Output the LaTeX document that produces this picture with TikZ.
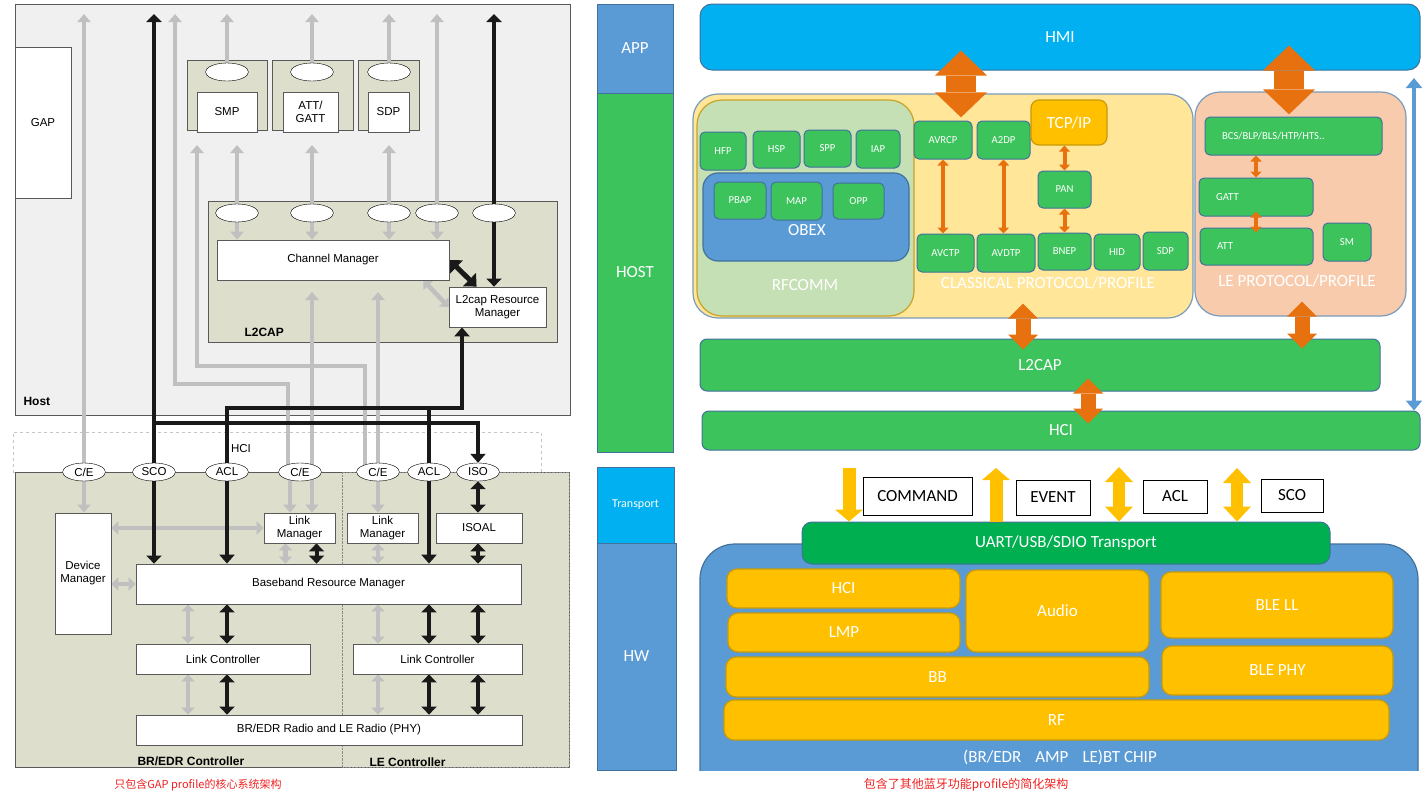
\documentclass[tikz,border=0pt]{standalone}
\usepackage{fontspec}
\setmainfont{Liberation Sans}
\newfontfamily\calfont{Carlito}
\newfontfamily\cjkfont{Noto Sans CJK SC}
\usetikzlibrary{positioning,fit,shapes.geometric,arrows.meta}
\pgfdeclarelayer{back}
\pgfdeclarelayer{wires}
\pgfsetlayers{back,wires,main}

\definecolor{hostbg}{HTML}{F0F0F0}
\definecolor{khaki}{HTML}{DDDECB}
\definecolor{gline}{HTML}{C0C0C0}
\definecolor{frame}{HTML}{595959}
\definecolor{appblue}{HTML}{5B9BD5}
\definecolor{edge}{HTML}{41719C}
\definecolor{pgreen}{HTML}{3CC35C}
\definecolor{tgreen}{HTML}{00B050}
\definecolor{hmicyan}{HTML}{00B0F0}
\definecolor{clsyel}{HTML}{FFE699}
\definecolor{rfgreen}{HTML}{C5E0B4}
\definecolor{rfedge}{HTML}{C9A227}
\definecolor{lesalmon}{HTML}{F8CBAD}
\definecolor{gold}{HTML}{FFC000}
\definecolor{goldedge}{HTML}{C99A06}
\definecolor{oarrow}{HTML}{E8710F}
\definecolor{capred}{HTML}{F02020}

\newcommand{\lsz}{\fontsize{11.5}{13}\selectfont}
\newcommand{\lbf}{\fontsize{12}{14}\selectfont\bfseries}
\newcommand{\csm}{\calfont\fontsize{10.7}{12}\selectfont}
\newcommand{\cbig}{\calfont\fontsize{17}{20}\selectfont}

\tikzset{
  hbox/.style={draw=frame, fill=hostbg, inner sep=0pt, line width=1pt},
  kbox/.style={draw=frame, fill=khaki, inner sep=0pt, line width=0.8pt},
  wbox/.style={draw=frame, fill=white, inner sep=0pt, line width=0.8pt},
  wtxt/.style={label={[font=\lsz, align=center]center:#1}},
  hcibox/.style={draw=gray!45, dashed, inner sep=0pt},
  port/.style={ellipse, draw=black, fill=white, minimum width=43pt, minimum height=18pt, inner sep=0pt, font=\lsz},
  tag/.style={anchor=west, font=\lbf},
  garr/.style={draw=gline, line width=4.5pt, -{Triangle[length=8pt,width=13pt]}},
  gdbl/.style={draw=gline, line width=4.5pt, {Triangle[length=7pt,width=13pt]}-{Triangle[length=7pt,width=13pt]}},
  bline/.style={draw=black!90, line width=4pt},
  barr/.style={bline, -{Triangle[length=9pt,width=15pt]}},
  bdbl/.style={bline, {Triangle[length=8pt,width=15pt]}-{Triangle[length=8pt,width=15pt]}},
  bfat/.style={draw=black!90, line width=5pt, {Triangle[length=10pt,width=18pt]}-{Triangle[length=10pt,width=18pt]}},
  col/.style={draw=edge, inner sep=0pt},
  zone/.style={draw=edge!70, rounded corners=25pt, inner sep=0pt, line width=1.2pt},
  gbox/.style={draw=edge, fill=pgreen, rounded corners=5pt, inner sep=0pt, line width=1pt},
  gtxt/.style={label={[font=\csm, text=white]center:#1}},
  glbl/.style={anchor=west, xshift=14pt, text=white, font=\csm},
  btxt/.style={label={[font=\cbig, text=white]center:#1}},
  ktxt/.style={label={[font=\cbig]center:#1}},
  bar/.style={draw=edge, fill=pgreen, rounded corners=7pt, inner sep=0pt, line width=1pt},
  ybox/.style={draw=goldedge, fill=gold, rounded corners=10pt, inner sep=0pt, line width=1.2pt},
  tbox/.style={draw=black, fill=white, inner sep=0pt, line width=1pt},
  zlbl/.style={text=white, font=\cbig},
  bigarr/.style={draw=oarrow, line width=30pt, {Triangle[length=25pt,width=52pt,line width=0pt]}-{Triangle[length=25pt,width=52pt,line width=0pt]}},
  midarr/.style={draw=oarrow, line width=15pt, {Triangle[length=15pt,width=30pt,line width=0pt]}-{Triangle[length=15pt,width=30pt,line width=0pt]}},
  sarr/.style={draw=oarrow, line width=4pt, {Triangle[length=6pt,width=11pt]}-{Triangle[length=6pt,width=11pt]}},
  yarr/.style={draw=gold, line width=13pt, -{Triangle[length=12pt,width=28pt,line width=0pt]}},
  ydbl/.style={draw=gold, line width=12pt, {Triangle[length=15pt,width=28pt,line width=0pt]}-{Triangle[length=15pt,width=28pt,line width=0pt]}},
  blarr/.style={draw=appblue, line width=4pt, {Triangle[length=10pt,width=16pt]}-{Triangle[length=10pt,width=16pt]}},
  captxt/.style={text=capred, font=\cjkfont\fontsize{11}{13}\selectfont}
}

\begin{document}
\begin{tikzpicture}[x=1pt, y=-1pt]
\useasboundingbox (0,0) rectangle (1425,803);

\begin{pgfonlayer}{back}
\node[hbox, fit={(15,4) (570,415)}] (host) {};
\node[kbox, fit={(187,60) (267,130)}] (smpc) {};
\node[kbox, fit={(272,60) (353,130)}] (attc) {};
\node[kbox, fit={(358,60) (419,130)}] (sdpc) {};
\node[kbox, fit={(208,201) (557,342)}] (l2cap) {};
\node[hcibox, fit={(13,432) (541,472)}] (hci) {};
\node[kbox, fit={(15,472) (569,767)}] (ctrl) {};
\node[draw=frame!70, densely dotted, inner sep=0pt, fit={(342,472) (569,767)}] (lectrl) {};
\end{pgfonlayer}

\node[wbox, fit={(15,47) (71,198)}, wtxt=GAP] (gap) {};
\node[port] (smpe) at (227,72) {};
\node[wbox, fit={(197,92) (257,132)}, wtxt=SMP] (smp) {};
\node[port] (atte) at (312,72) {};
\node[wbox, fit={(283,92) (338,132)}, wtxt={ATT/\\GATT}] (att) {};
\node[port] (sdpe) at (389,72) {};
\node[wbox, fit={(368,92) (409,132)}, wtxt=SDP] (sdp) {};
\foreach \n/\x in {1/237,2/312,3/389,4/437,5/494}
  \node[port] (l2e\n) at (\x,213) {};
\node[wbox, fit={(217,240) (449,280)}, wtxt={Channel Manager}] (chman) {};
\node[wbox, fit={(449,287) (546,327)}, wtxt={L2cap Resource\\Manager}] (l2rm) {};
\node[tag] (l2lbl) at (241,332) {L2CAP};
\node[tag] (hostlbl) at (20,401) {Host};
\node[font=\lsz] (hcilbl) at (241,449) {HCI};

\node[port] (ce1) at (84,472) {C/E};
\node[port] (sco) at (154,472) {SCO};
\node[port] (acl1) at (227,472) {ACL};
\node[port] (ce2) at (300,472) {C/E};
\node[port] (ce3) at (378,472) {C/E};
\node[port] (acl2) at (429,472) {ACL};
\node[port] (iso) at (478,472) {ISO};

\node[wbox, fit={(55,513) (111,634)}, wtxt={Device\\Manager}] (devm) {};
\node[wbox, fit={(264,513) (335,543)}, wtxt={Link\\Manager}] (lm1) {};
\node[wbox, fit={(347,513) (418,543)}, wtxt={Link\\Manager}] (lm2) {};
\node[wbox, fit={(436,513) (522,543)}, wtxt=ISOAL] (isoal) {};
\node[wbox, fit={(136,564) (521,604)}, wtxt={Baseband Resource Manager}] (brm) {};
\node[wbox, fit={(136,644) (310,674)}, wtxt={Link Controller}] (lc1) {};
\node[wbox, fit={(353,644) (522,674)}, wtxt={Link Controller}] (lc2) {};
\node[wbox, fit={(136,715) (522,745)}, wtxt={BR/EDR Radio and LE Radio (PHY)}] (radio) {};
\node[tag] (brlbl) at (134,761) {BR/EDR Controller};
\node[tag] (lelbl) at (366,762) {LE Controller};

\begin{pgfonlayer}{wires}
\coordinate (topy) at (0,14);
\coordinate (pbot) at (0,145);
\coordinate (cmtip) at (0,292);
\coordinate (ra) at (175,384);
\coordinate (rb) at (197,366);
\coordinate (busa) at (0,408);
\coordinate (busb) at (0,423);
\coordinate (rx) at (462,0);
\coordinate (gx) at (188,0);

\draw[garr] (ce1) -- (ce1 |- topy);
\foreach \e in {smpe,atte,sdpe} \draw[garr] (\e) -- (\e |- topy);
\foreach \e in {l2e1,l2e2,l2e3} \draw[garr] (\e) -- (\e |- pbot);
\draw[garr] (l2e4) -- (l2e4 |- topy);
\foreach \e in {l2e1,l2e2,l2e3,l2e4} \draw[garr] (\e) -- (\e |- chman.north);
\draw[garr] ([xshift=-12pt]ce2.center) |- (ra) -- (ra |- topy);
\draw[garr] ([xshift=-13pt]ce3.center) |- (rb) -- (rb |- pbot);
\draw[garr] ([xshift=12pt]ce2.center) coordinate (c2r) -- (c2r |- cmtip);
\draw[garr] (ce3) -- (ce3 |- cmtip);
\draw[gdbl] ([xshift=-26pt]chman.south east) -- (l2rm.west);

\draw[garr] (ce1) -- (ce1 |- devm.north);
\draw[garr] ([xshift=-10pt]ce2.center) coordinate (c2l) -- (c2l |- lm1.north);
\draw[garr] (c2r) -- (c2r |- lm1.north);
\draw[garr] (ce3) -- (ce3 |- lm2.north);
\draw[gdbl] (devm.east |- lm1.west) -- (lm1.west);
\draw[gdbl] (devm.east |- brm.west) -- (brm.west);
\draw[gdbl] ([xshift=-14pt]lm1.south) coordinate (g1) -- (g1 |- brm.north);
\draw[gdbl] (lm2.south -| ce3) -- (brm.north -| ce3);
\draw[gdbl] (brm.south -| gx) -- (lc1.north -| gx);
\draw[gdbl] (lc1.south -| gx) -- (radio.north -| gx);
\draw[gdbl] (brm.south -| ce3) -- (lc2.north -| ce3);
\draw[gdbl] (lc2.south -| ce3) -- (radio.north -| ce3);

\draw[bdbl] (sco |- topy) -- (sco |- brm.north);
\draw[barr] (acl1) -- (acl1 |- brm.north);
\draw[barr] (acl2) -- (acl2 |- brm.north);
\draw[bline] (acl2) -- (acl2 |- busa);
\draw[barr] (acl1) -- (acl1 |- busa) -| (l2rm.south -| rx);
\draw[barr] (sco |- busb) -| (iso.north);
\draw[bdbl] (l2e5 |- topy) -- (l2e5 |- l2rm.north);
\draw[bfat] (chman.east) -- ([xshift=28pt]l2rm.north west);
\draw[bdbl] (iso) -- (isoal.north -| iso);
\draw[bdbl] (isoal.south -| iso) -- (brm.north -| iso);
\draw[bdbl] ([xshift=17pt]lm1.south) coordinate (b1) -- (b1 |- brm.north);
\draw[bdbl] (brm.south -| acl1) -- (lc1.north -| acl1);
\draw[bdbl] (lc1.south -| acl1) -- (radio.north -| acl1);
\foreach \p in {acl2,iso} {
  \draw[bdbl] (brm.south -| \p) -- (lc2.north -| \p);
  \draw[bdbl] (lc2.south -| \p) -- (radio.north -| \p);
}
\end{pgfonlayer}

\node[captxt] (capl) at (198,785) {只包含GAP profile的核心系统架构};

\node[col, fill=appblue, fit={(597,4) (673,93)}, btxt=APP] (app) {};
\node[col, fill=pgreen, fit={(597,93) (673,452)}, btxt=HOST] (hostcol) {};
\node[col, fill=hmicyan, fit={(597,467) (674,543)},
  label={[text=white, font=\calfont\fontsize{12}{14}\selectfont]center:Transport}] (trcol) {};
\node[col, fill=appblue, fit={(597,543) (676,770)}, btxt=HW] (hwcol) {};

\node[bar, fill=hmicyan, rounded corners=12pt, fit={(700,4) (1420,70)}, btxt=HMI] (hmi) {};
\node[zone, fill=clsyel, fit={(693,94) (1193,318)}] (cls) {};
\node[zone, fill=rfgreen, draw=rfedge, fit={(697,100) (914,316)}] (rfc) {};
\node[zone, fill=appblue, draw=edge, rounded corners=15pt, fit={(703,173) (909,261)}] (obex) {};
\node[zone, fill=lesalmon, fit={(1195,92) (1406,316)}] (le) {};
\node[zlbl] (rfclbl) at (805,285) {RFCOMM};
\node[zlbl] (obexlbl) at (807,230) {OBEX};
\node[zlbl] (clslbl) at (1048,283) {CLASSICAL PROTOCOL/PROFILE};
\node[zlbl] (lelbl2) at (1297,281) {LE PROTOCOL/PROFILE};

\foreach \n/\lb/\xa/\ya/\xb/\yb in {hfp/HFP/700/132/746/170, hsp/HSP/753/131/800/168,
    spp/SPP/804/130/851/167, iap/IAP/856/130/900/168, pbap/PBAP/714/182/766/219,
    map/MAP/771/182/822/220, opp/OPP/833/183/884/219, avrcp/AVRCP/914/121/972/159,
    a2dp/A2DP/977/121/1030/159, pan/PAN/1038/171/1091/208, avctp/AVCTP/917/234/974/272,
    avdtp/AVDTP/977/234/1035/272, bnep/BNEP/1038/233/1091/270, hid/HID/1094/234/1140/270,
    sdpr/SDP/1143/232/1188/270, sm/SM/1323/223/1371/261}
  \node[gbox, fit={(\xa,\ya) (\xb,\yb)}, gtxt=\lb] (\n) {};
\node[ybox, rounded corners=8pt, fit={(1031,100) (1107,145)}, btxt={TCP/IP}] (tcpip) {};
\node[gbox, fit={(1205,117) (1382,155)}, label={[glbl]west:BCS/BLP/BLS/HTP/HTS..}] (bcs) {};
\node[gbox, fit={(1199,178) (1313,216)}, label={[glbl]west:GATT}] (gatt) {};
\node[gbox, fit={(1200,228) (1313,265)}, label={[glbl]west:ATT}] (attr) {};

\node[bar, fit={(700,339) (1380,391)}, btxt=L2CAP] (l2r) {};
\node[bar, fit={(702,411) (1420,450)}, btxt=HCI] (hcir) {};

\draw[sarr] (avrcp.south) -- (avrcp.south |- avctp.north);
\draw[sarr] (a2dp.south) -- (a2dp.south |- avdtp.north);
\draw[sarr] (pan.north |- tcpip.south) -- (pan.north);
\draw[sarr] (pan.south) -- (bnep.north);
\draw[sarr] (gatt.north |- bcs.south) -- (gatt.north);
\draw[sarr, shorten <=-5pt, shorten >=-5pt] (gatt.south) -- (attr.north -| gatt.south);

\coordinate (ba1) at (961,0);
\coordinate (ba2) at (1289,0);
\coordinate (ma1) at (1023,0);
\coordinate (ma2) at (1302,0);
\coordinate (ma3) at (1088,0);
\draw[bigarr, shorten <=-20pt, shorten >=-24pt] (hmi.south -| ba1) -- (cls.north -| ba1);
\draw[bigarr, shorten <=-25pt, shorten >=-23pt] (hmi.south -| ba2) -- (le.north -| ba2);
\draw[midarr, shorten <=-15pt, shorten >=-11pt] (cls.south -| ma1) -- (l2r.north -| ma1);
\draw[midarr, shorten <=-15pt, shorten >=-10pt] (le.south -| ma2) -- (l2r.north -| ma2);
\draw[midarr, shorten <=-13pt, shorten >=-13pt] (l2r.south -| ma3) -- (hcir.north -| ma3);
\coordinate (bx) at (1414,78);
\draw[blarr] (bx) -- (hcir.north -| bx);

\begin{scope}
\clip (690,500) rectangle (1425,770);
\node[zone, fill=appblue, draw=edge, rounded corners=35pt, fit={(700,544) (1418,820)}] (chip) {};
\end{scope}
\node[bar, fill=tgreen, rounded corners=10pt, fit={(802,522) (1330,564)}, btxt={UART/USB/SDIO Transport}] (uart) {};
\foreach \n/\lb/\xa/\ya/\xb/\yb in {hcic/HCI/727/569/960/608, lmp/LMP/728/613/960/652,
    audio/Audio/966/570/1149/652, blell/BLE LL/1161/572/1393/638,
    blephy/BLE PHY/1162/646/1393/695, bb/BB/726/657/1149/697, rf/RF/724/700/1389/740}
  \node[ybox, fit={(\xa,\ya) (\xb,\yb)}, btxt=\lb] (\n) {};
\node[zlbl] (chiplbl) at (1060,757) {(BR/EDR\hspace{14pt}AMP\hspace{14pt}LE)BT CHIP};

\foreach \n/\lb/\xa/\ya/\xb/\yb in {cmd/COMMAND/863/477/972/515, evt/EVENT/1016/480/1090/515,
    aclt/ACL/1143/480/1207/513, scot/SCO/1261/479/1323/512}
  \node[tbox, fit={(\xa,\ya) (\xb,\yb)}, ktxt=\lb] (\n) {};
\coordinate (ya1) at (849,468);
\coordinate (ya2) at (996,468);
\coordinate (ya3) at (1119,467);
\coordinate (ya4) at (1237,468);
\draw[yarr] (ya1) -- (uart.north -| ya1);
\draw[yarr] (uart.north -| ya2) -- (ya2);
\draw[ydbl] (ya3) -- (uart.north -| ya3);
\draw[ydbl] (ya4) -- (uart.north -| ya4);

\node[captxt, font=\cjkfont\fontsize{12}{14}\selectfont] (capr) at (966,785) {包含了其他蓝牙功能profile的简化架构};
\end{tikzpicture}
\end{document}
